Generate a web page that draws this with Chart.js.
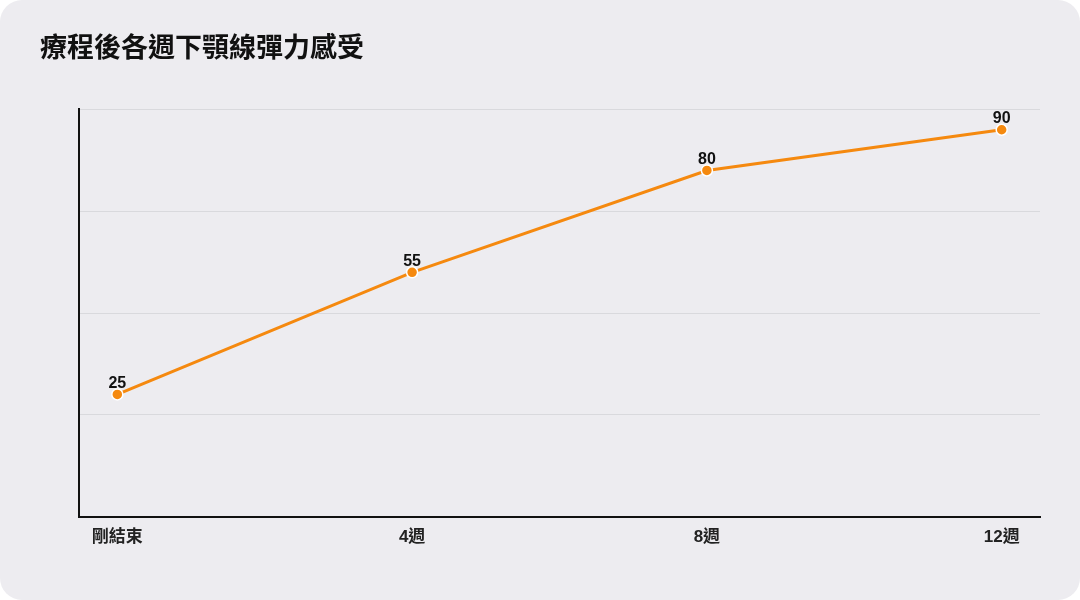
<!DOCTYPE html>
<html>
<head>
<meta charset="utf-8">
<script src="https://cdn.jsdelivr.net/npm/chart.js@4/dist/chart.umd.min.js"></script>
<style>
	html, body { margin: 0; padding: 0; background: #ffffff; }
	#card { position: relative; width: 1080px; height: 600px; background: #edecf0; border-radius: 22px; overflow: hidden; }
</style>
</head>
<body>
<div id="card"><canvas id="mycanvas" width="1080" height="600"></canvas></div>
<script>
// chart data
var weeks = ["剛結束", "4週", "8週", "12週"];
var elasticity = [25, 55, 80, 90];
var yTicks = [-5, 20, 45, 70, 95];

var fontFam = "'Liberation Sans', 'Noto Sans CJK TC', sans-serif";

// draws the value above each point
var valueLabels = {
	id: 'valueLabels',
	afterDatasetsDraw: function(chart) {
		var ctx = chart.ctx;
		var meta = chart.getDatasetMeta(0);
		ctx.save();
		ctx.font = "bold 16px " + fontFam;
		ctx.fillStyle = "#111111";
		ctx.textAlign = "center";
		ctx.textBaseline = "middle";
		meta.data.forEach(function(pt, i) {
			ctx.fillText(String(elasticity[i]), pt.x, pt.y - 11);
		});
		ctx.restore();
	}
};

var ctx = document.getElementById("mycanvas");

var LineGraph = new Chart(ctx, {
	type: 'line',
	data: {
		datasets: [{
			label: "彈力感受",
			data: elasticity.map(function(v, i) { return { x: i, y: v }; }),
			borderColor: "#f5890f",
			backgroundColor: "#f5890f",
			borderWidth: 3,
			pointRadius: 5.5,
			pointBorderColor: "#ffffff",
			pointBorderWidth: 1.5,
			pointBackgroundColor: "#f5890f",
			fill: false,
			tension: 0
		}]
	},
	options: {
		responsive: false,
		animation: false,
		layout: { padding: { top: 33, left: 40, right: 40, bottom: 49 } },
		plugins: {
			legend: { display: false },
			tooltip: { enabled: false },
			title: {
				display: true,
				text: "療程後各週下顎線彈力感受",
				align: 'start',
				color: "#111111",
				font: { family: fontFam, size: 27, weight: 'bold' },
				padding: { top: 0, bottom: 44 }
			}
		},
		scales: {
			x: {
				type: 'linear',
				min: -0.13,
				max: 3.13,
				afterBuildTicks: function(axis) {
					axis.ticks = weeks.map(function(w, i) { return { value: i }; });
				},
				grid: { display: false },
				border: { display: true, color: "#111111", width: 2 },
				ticks: {
					padding: 3,
					color: "#222222",
					font: { family: fontFam, size: 17, weight: 'bold' },
					callback: function(value) { return weeks[value]; }
				}
			},
			y: {
				min: -5,
				max: 95,
				afterBuildTicks: function(axis) {
					axis.ticks = yTicks.map(function(v) { return { value: v }; });
				},
				afterFit: function(axis) { axis.width = 39; },
				grid: { color: "#d9d9dd", lineWidth: 1, drawTicks: false },
				border: { display: true, color: "#111111", width: 2 },
				ticks: { display: false }
			}
		}
	},
	plugins: [valueLabels]
});
</script>
</body>
</html>
